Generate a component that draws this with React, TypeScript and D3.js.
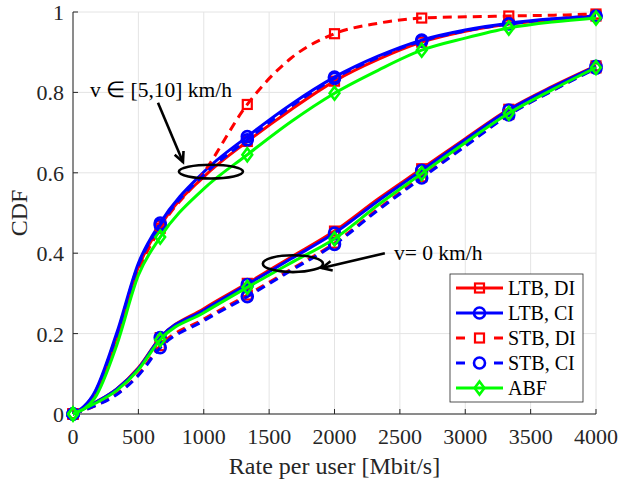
import React from 'react';
import * as d3 from 'd3';

const rateGrid = [0, 167, 333, 500, 667, 1000, 1333, 1667, 2000, 2333, 2667, 3000, 3333, 3667, 4000];
const markerRates = [0, 667, 1333, 2000, 2667, 3333, 4000];

// v in [5,10] km/h
const ltbDiMoving = [0, 0.05, 0.19, 0.365, 0.468, 0.59, 0.678, 0.757, 0.828, 0.882, 0.925, 0.952, 0.97, 0.981, 0.99];
const ltbCiMoving = [0, 0.055, 0.2, 0.375, 0.475, 0.602, 0.69, 0.77, 0.838, 0.89, 0.93, 0.955, 0.972, 0.983, 0.99];
const stbDiMoving = [0, 0.045, 0.18, 0.355, 0.462, 0.6, 0.77, 0.885, 0.946, 0.972, 0.985, 0.988, 0.99, 0.992, 0.995];
const stbCiMoving = [0, 0.053, 0.195, 0.37, 0.47, 0.595, 0.682, 0.765, 0.835, 0.887, 0.928, 0.953, 0.97, 0.982, 0.99];
const abfMoving = [0, 0.04, 0.17, 0.345, 0.44, 0.56, 0.645, 0.727, 0.798, 0.855, 0.905, 0.935, 0.96, 0.975, 0.985];

// v = 0 km/h
const ltbDiStatic = [0, 0.028, 0.062, 0.115, 0.19, 0.262, 0.325, 0.39, 0.455, 0.535, 0.61, 0.685, 0.758, 0.815, 0.866];
const ltbCiStatic = [0, 0.028, 0.062, 0.113, 0.19, 0.258, 0.322, 0.386, 0.45, 0.53, 0.606, 0.682, 0.756, 0.813, 0.865];
const stbDiStatic = [0, 0.02, 0.05, 0.098, 0.17, 0.236, 0.296, 0.36, 0.425, 0.51, 0.59, 0.668, 0.745, 0.805, 0.861];
const stbCiStatic = [0, 0.02, 0.048, 0.096, 0.165, 0.232, 0.292, 0.357, 0.422, 0.507, 0.587, 0.666, 0.744, 0.804, 0.86];
const abfStatic = [0, 0.026, 0.058, 0.11, 0.185, 0.252, 0.315, 0.376, 0.436, 0.52, 0.598, 0.675, 0.748, 0.807, 0.862];

const xTicks = [0, 500, 1000, 1500, 2000, 2500, 3000, 3500, 4000];
const yTicks = [0, 0.2, 0.4, 0.6, 0.8, 1];

const series = [
  { name: 'LTB, DI', color: '#ff0000', dashed: false, marker: 'square', moving: ltbDiMoving, still: ltbDiStatic },
  { name: 'LTB, CI', color: '#0000ff', dashed: false, marker: 'circle', moving: ltbCiMoving, still: ltbCiStatic },
  { name: 'STB, DI', color: '#ff0000', dashed: true, marker: 'square', moving: stbDiMoving, still: stbDiStatic },
  { name: 'STB, CI', color: '#0000ff', dashed: true, marker: 'circle', moving: stbCiMoving, still: stbCiStatic },
  { name: 'ABF', color: '#00ff00', dashed: false, marker: 'diamond', moving: abfMoving, still: abfStatic },
];

const width = 618;
const height = 481;
const margin = { top: 12, right: 22, bottom: 67, left: 73 };
const font = '"Liberation Serif", "Times New Roman", serif';
const axisColor = '#262626';

function Marker({ kind, x, y, color }: { kind: string; x: number; y: number; color: string }) {
  if (kind === 'square') {
    return <rect x={x - 4.5} y={y - 4.5} width={9} height={9} fill="none" stroke={color} strokeWidth={2.2} />;
  }
  if (kind === 'circle') {
    return <circle cx={x} cy={y} r={5.5} fill="none" stroke={color} strokeWidth={2.6} />;
  }
  const s = 6.5;
  return (
    <path
      d={`M${x},${y - s}L${x + s * 0.75},${y}L${x},${y + s}L${x - s * 0.75},${y}Z`}
      fill="none"
      stroke={color}
      strokeWidth={2.6}
    />
  );
}

export default function App() {
  const x = d3.scaleLinear().domain([0, 4000]).range([margin.left, width - margin.right]);
  const y = d3.scaleLinear().domain([0, 1]).range([height - margin.bottom, margin.top]);

  const line = d3
    .line<number>()
    .x((_, i) => x(rateGrid[i]))
    .y(d => y(d))
    .curve(d3.curveMonotoneX);

  const markerIdx = markerRates.map(r => rateGrid.indexOf(r));

  // open V arrow head at (x2, y2)
  const arrowHead = (x1: number, y1: number, x2: number, y2: number) => {
    const a = Math.atan2(y2 - y1, x2 - x1);
    const len = 11;
    const spread = 0.45;
    const p1 = [x2 - len * Math.cos(a - spread), y2 - len * Math.sin(a - spread)];
    const p2 = [x2 - len * Math.cos(a + spread), y2 - len * Math.sin(a + spread)];
    return `M${p1[0]},${p1[1]}L${x2},${y2}L${p2[0]},${p2[1]}`;
  };

  const arrows = [
    { from: [650, 0.774], to: [841, 0.627] },
    { from: [2385, 0.4], to: [1904, 0.363] },
  ].map(a => ({ x1: x(a.from[0]), y1: y(a.from[1]), x2: x(a.to[0]), y2: y(a.to[1]) }));

  const ellipses = [
    { cx: 1055, cy: 0.603, rx: 245, ry: 0.017 },
    { cx: 1682, cy: 0.374, rx: 230, ry: 0.021 },
  ];

  const legend = { x: 450, y: 274, w: 133, h: 128, row: 25 };

  return (
    <svg
      width={width}
      height={height}
      style={{ position: 'absolute', left: 0, top: 0, background: '#fff' }}
      fontFamily={font}
    >
      {/* grid */}
      <g stroke="#e4e4e4" strokeWidth={1}>
        {xTicks.map(t => (
          <line key={'gx' + t} x1={x(t)} x2={x(t)} y1={y(0)} y2={y(1)} />
        ))}
        {yTicks.map(t => (
          <line key={'gy' + t} x1={x(0)} x2={x(4000)} y1={y(t)} y2={y(t)} />
        ))}
      </g>

      {/* axes */}
      <g stroke={axisColor} strokeWidth={1}>
        <line x1={x(0)} x2={x(0)} y1={y(0)} y2={y(1)} />
        <line x1={x(0)} x2={x(4000)} y1={y(0)} y2={y(0)} />
        {xTicks.map(t => (
          <line key={'tx' + t} x1={x(t)} x2={x(t)} y1={y(0)} y2={y(0) - 5} />
        ))}
        {yTicks.map(t => (
          <line key={'ty' + t} x1={x(0)} x2={x(0) + 5} y1={y(t)} y2={y(t)} />
        ))}
      </g>
      <g fill={axisColor} fontSize={22}>
        {xTicks.map(t => (
          <text key={'lx' + t} x={x(t)} y={y(0) + 30} textAnchor="middle">
            {t}
          </text>
        ))}
        {yTicks.map(t => (
          <text key={'ly' + t} x={x(0) - 9} y={y(t) + 8} textAnchor="end">
            {d3.format('~g')(t)}
          </text>
        ))}
      </g>
      <g fill={axisColor} fontSize={24}>
        <text x={(x(0) + x(4000)) / 2} y={474} textAnchor="middle">
          Rate per user [Mbit/s]
        </text>
        <text transform={`translate(27,${y(0.5)}) rotate(-90)`} textAnchor="middle">
          CDF
        </text>
      </g>

      {/* curves */}
      {series.map(s =>
        [s.moving, s.still].map((vals, k) => (
          <g key={s.name + k}>
            <path
              d={line(vals) || ''}
              fill="none"
              stroke={s.color}
              strokeWidth={3}
              strokeDasharray={s.dashed ? '9,6' : undefined}
            />
            {markerIdx.map(i => (
              <Marker key={i} kind={s.marker} x={x(rateGrid[i])} y={y(vals[i])} color={s.color} />
            ))}
          </g>
        ))
      )}

      {/* annotations */}
      <g stroke="#000" strokeWidth={2.6} fill="none">
        {ellipses.map((e, i) => (
          <ellipse
            key={i}
            cx={x(e.cx)}
            cy={y(e.cy)}
            rx={x(e.rx) - x(0)}
            ry={y(0) - y(e.ry)}
          />
        ))}
        {arrows.map((a, i) => (
          <g key={i}>
            <line x1={a.x1} y1={a.y1} x2={a.x2} y2={a.y2} />
            <path d={arrowHead(a.x1, a.y1, a.x2, a.y2)} />
          </g>
        ))}
      </g>
      <g fill="#000" fontSize={21.5}>
        <text x={x(130)} y={y(0.789)}>v ∈ [5,10] km/h</text>
        <text x={x(2455)} y={y(0.383)}>v= 0 km/h</text>
      </g>

      {/* legend */}
      <g>
        <rect x={legend.x} y={legend.y} width={legend.w} height={legend.h} fill="#fff" stroke={axisColor} strokeWidth={0.8} />
        {series.map((s, i) => {
          const cy = legend.y + 14 + i * legend.row;
          const x0 = legend.x + 6;
          const x1 = legend.x + 53;
          const mx = (x0 + x1) / 2;
          return (
            <g key={s.name}>
              {s.dashed ? (
                <g stroke={s.color} strokeWidth={3}>
                  <line x1={x0} x2={x0 + 9} y1={cy} y2={cy} />
                  <line x1={x1 - 9} x2={x1} y1={cy} y2={cy} />
                </g>
              ) : (
                <line x1={x0} x2={x1} y1={cy} y2={cy} stroke={s.color} strokeWidth={3} />
              )}
              <Marker kind={s.marker} x={mx} y={cy} color={s.color} />
              <text x={legend.x + 58} y={cy + 7} fontSize={20} fill="#000">
                {s.name}
              </text>
            </g>
          );
        })}
      </g>
    </svg>
  );
}
